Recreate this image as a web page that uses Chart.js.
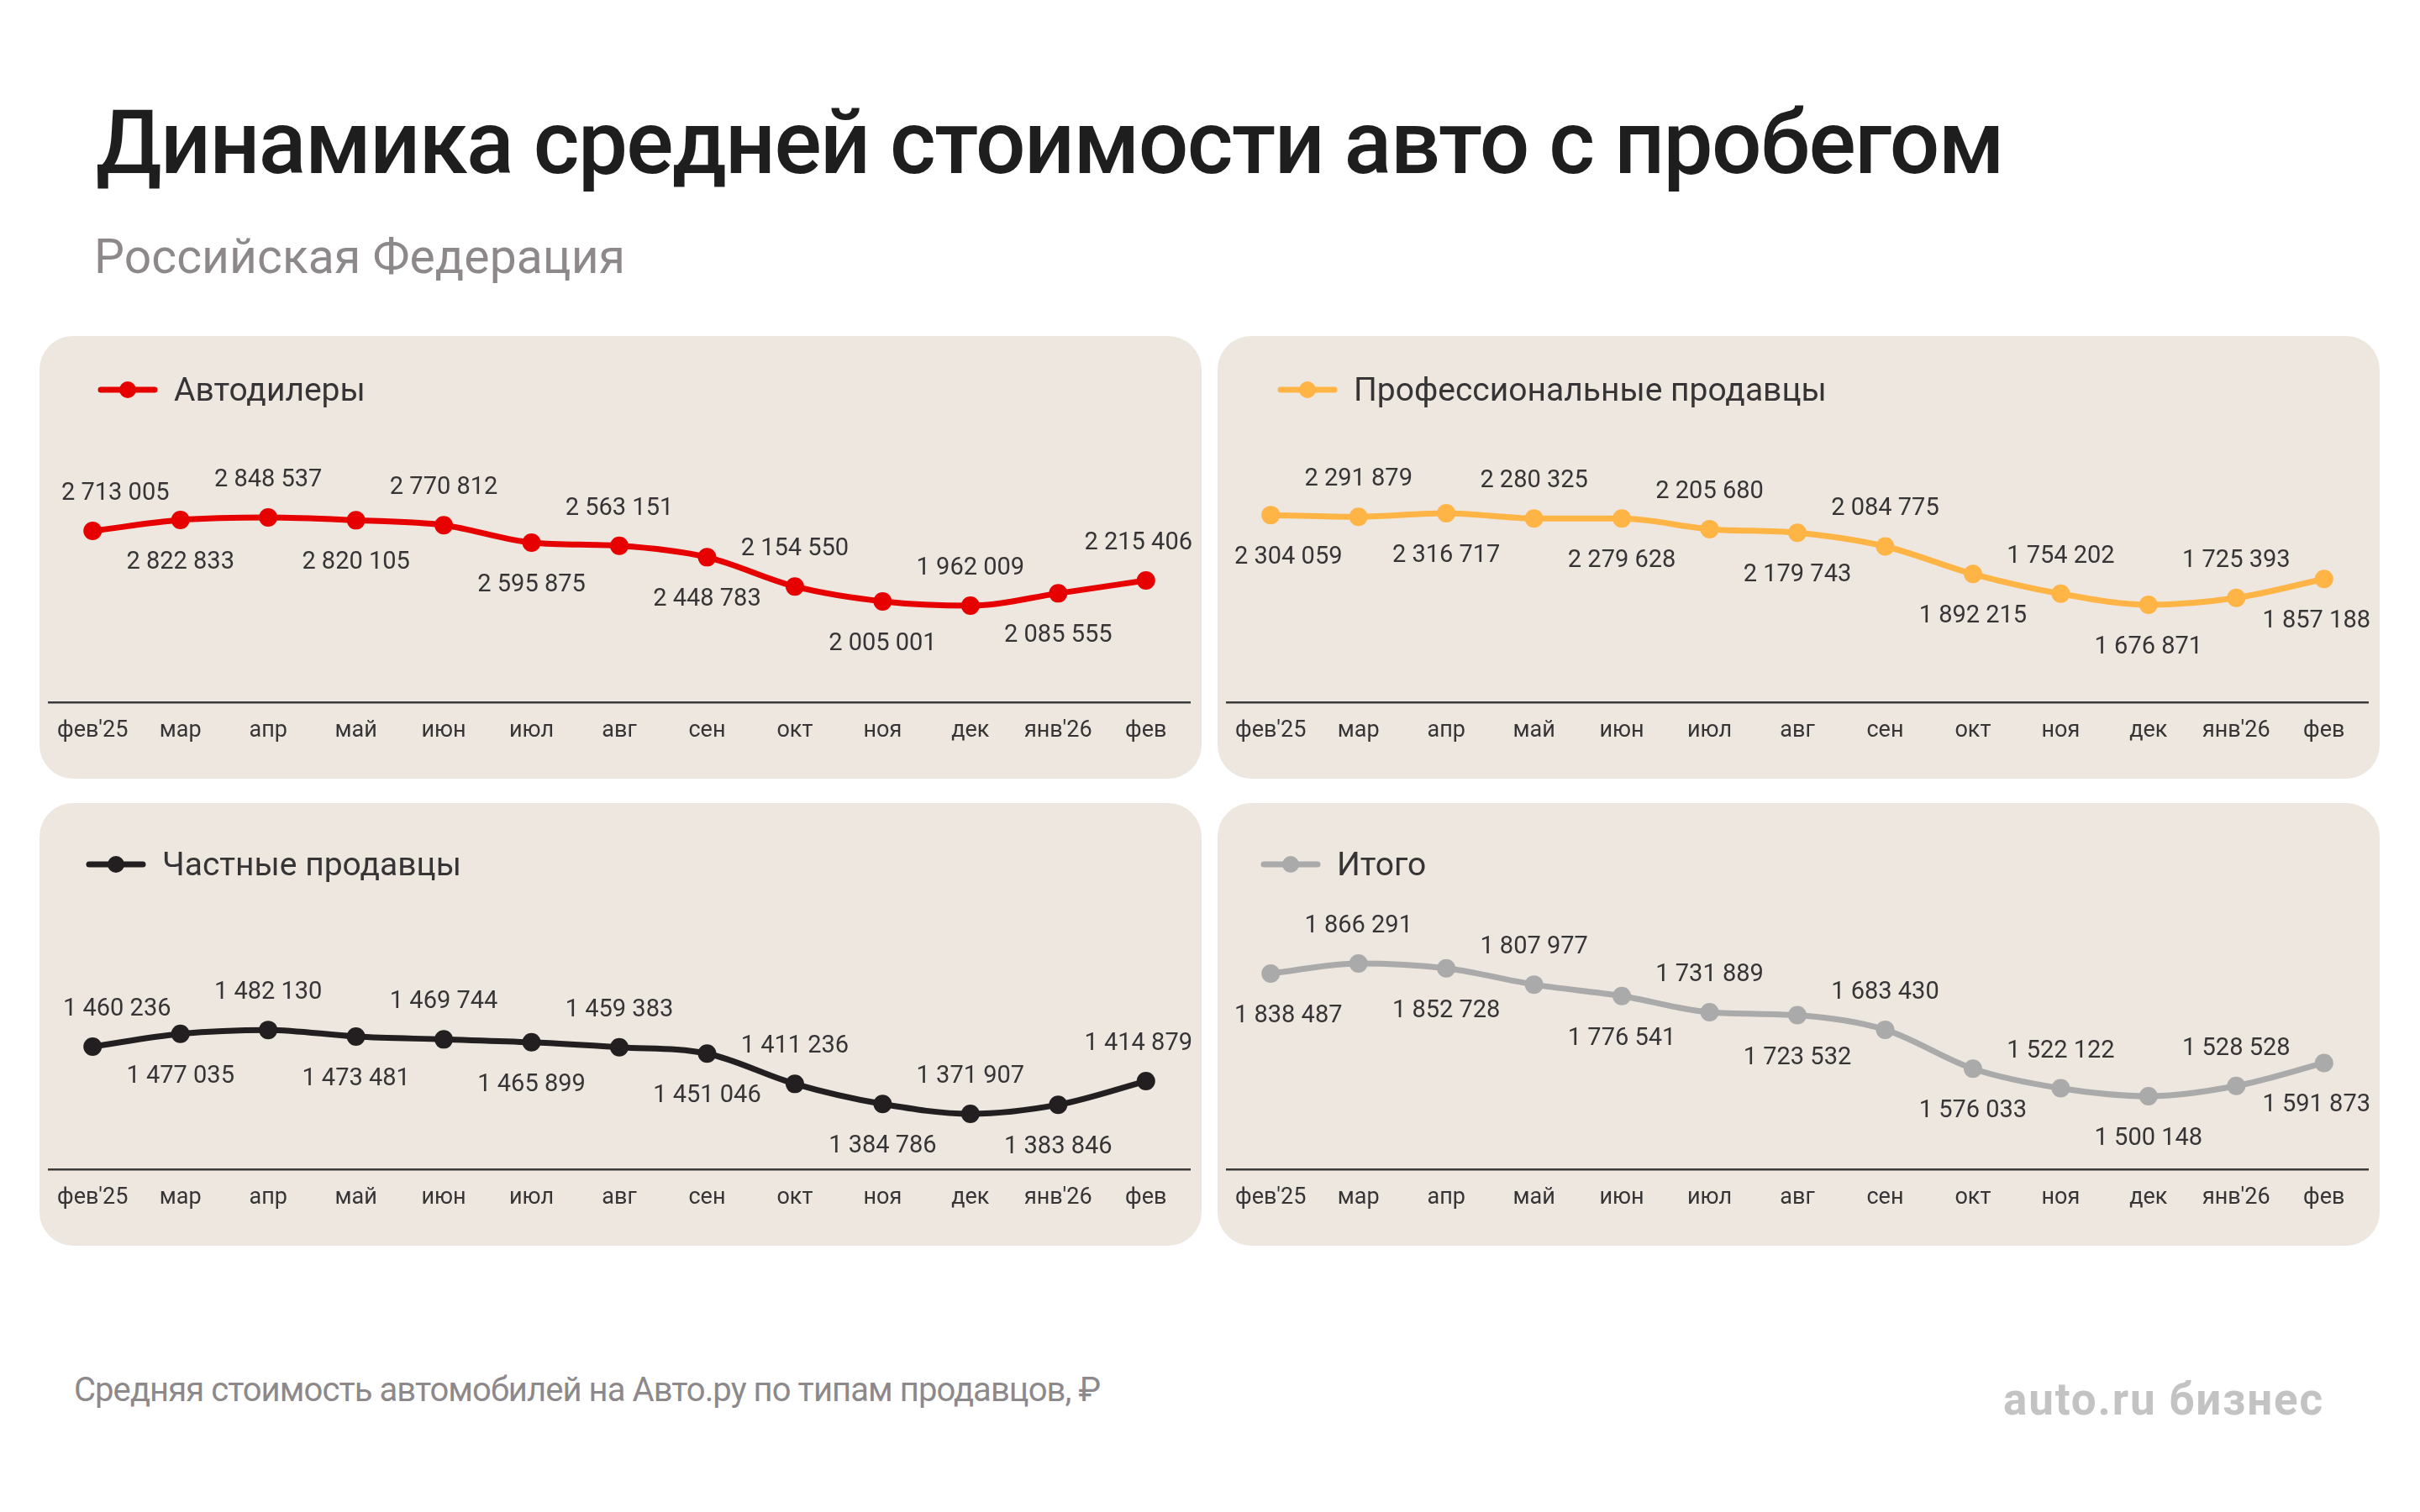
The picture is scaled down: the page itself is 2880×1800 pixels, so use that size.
<!DOCTYPE html>
<html lang="ru">
<head>
<meta charset="utf-8">
<title>Динамика средней стоимости авто с пробегом</title>
<script src="https://cdn.jsdelivr.net/npm/chart.js@4.4.1/dist/chart.umd.min.js"></script>
<style>
  html, body { margin: 0; padding: 0; background: #ffffff; }
  body { width: 2880px; height: 1800px; position: relative; overflow: hidden; font-family: Roboto, "Noto Sans", sans-serif; }
  .txt { position: absolute; white-space: nowrap; line-height: 1; }
  #title { left: 114px; top: 118px; font-size: 105px; font-weight: 500; color: #1e1e1e; }
  #subtitle { left: 112px; top: 277px; font-size: 57px; font-weight: 400; color: #8d898b; }
  #footer { left: 88px; top: 1635px; font-size: 40px; font-weight: 400; color: #8d898b; }
  #logo { left: 2384px; top: 1640px; font-size: 53px; font-weight: 700; color: #c3c3c3; }
  .panel { position: absolute; width: 1383px; height: 527px; background: #ede7e0; border-radius: 40px; overflow: hidden; }
  .panel canvas { position: absolute; left: 0; top: 0; }
</style>
</head>
<body>
<div id="title" class="txt">Динамика средней стоимости авто с пробегом</div>
<div id="subtitle" class="txt">Российская Федерация</div>

<div class="panel" style="left:47px; top:400px;"><canvas id="c1" width="1383" height="527"></canvas></div>
<div class="panel" style="left:1449px; top:400px;"><canvas id="c2" width="1383" height="527"></canvas></div>
<div class="panel" style="left:47px; top:956px;"><canvas id="c3" width="1383" height="527"></canvas></div>
<div class="panel" style="left:1449px; top:956px;"><canvas id="c4" width="1383" height="527"></canvas></div>

<div id="footer" class="txt">Средняя стоимость автомобилей на Авто.ру по типам продавцов, ₽</div>
<div id="logo" class="txt">auto.ru бизнес</div>

<script>
// ---- data ----
const months = ["фев'25", "мар", "апр", "май", "июн", "июл", "авг", "сен", "окт", "ноя", "дек", "янв'26", "фев"];
const dealers = [2713005, 2822833, 2848537, 2820105, 2770812, 2595875, 2563151, 2448783, 2154550, 2005001, 1962009, 2085555, 2215406];
const professionals = [2304059, 2291879, 2316717, 2280325, 2279628, 2205680, 2179743, 2084775, 1892215, 1754202, 1676871, 1725393, 1857188];
const privateSellers = [1460236, 1477035, 1482130, 1473481, 1469744, 1465899, 1459383, 1451046, 1411236, 1384786, 1371907, 1383846, 1414879];
const totals = [1838487, 1866291, 1852728, 1807977, 1776541, 1731889, 1723532, 1683430, 1576033, 1522122, 1500148, 1528528, 1591873];

const seriesNames = ["Автодилеры", "Профессиональные продавцы", "Частные продавцы", "Итого"];

// ---- styles ----
const TEXT = '#363435';
const FONT = 'Roboto, "Noto Sans", sans-serif';

function fmt(v) {
  return String(v).replace(/\B(?=(\d{3})+(?!\d))/g, ' ');
}

const decorPlugin = {
  id: 'decor',
  afterDatasetsDraw(chart, args, opts) {
    const ctx = chart.ctx;
    const ds = chart.data.datasets[0];
    const meta = chart.getDatasetMeta(0);
    ctx.save();
    // value labels
    ctx.font = '400 29px ' + FONT;
    ctx.fillStyle = TEXT;
    ctx.textAlign = 'left';
    ctx.textBaseline = 'alphabetic';
    meta.data.forEach((pt, i) => {
      const text = fmt(ds.data[i]);
      const w = ctx.measureText(text).width;
      let x = pt.x - w / 2;
      x = Math.max(opts.labelMinX, Math.min(chart.width - opts.labelRightMargin - w, x));
      const above = ((i % 2) === 0) === opts.firstAbove;
      const y = above ? pt.y - 37 : pt.y + 58;
      ctx.fillText(text, x, y);
    });
    // legend
    const lx = opts.legendX, ly = opts.legendY;
    ctx.strokeStyle = ds.borderColor;
    ctx.lineWidth = 7;
    ctx.lineCap = 'round';
    ctx.beginPath();
    ctx.moveTo(lx + 3, ly);
    ctx.lineTo(lx + 67, ly);
    ctx.stroke();
    ctx.fillStyle = ds.borderColor;
    ctx.beginPath();
    ctx.arc(lx + 35, ly, 10, 0, Math.PI * 2);
    ctx.fill();
    ctx.font = '400 39px ' + FONT;
    ctx.fillStyle = TEXT;
    ctx.fillText(ds.label, lx + 90, ly + 13);
    ctx.restore();
  }
};

function makeChart(id, name, values, color, yMin, yMax, deco) {
  return new Chart(document.getElementById(id), {
    type: 'line',
    data: {
      labels: months,
      datasets: [{
        label: name,
        data: values,
        borderColor: color,
        backgroundColor: color,
        borderWidth: 7,
        borderCapStyle: 'round',
        borderJoinStyle: 'round',
        cubicInterpolationMode: 'monotone',
        pointRadius: 11,
        pointHoverRadius: 11,
        pointBorderWidth: 0,
        pointBackgroundColor: color,
        fill: false
      }]
    },
    options: {
      responsive: false,
      animation: false,
      events: [],
      layout: { padding: { left: 7, right: 14, top: 100, bottom: 0 } },
      plugins: {
        legend: { display: false },
        tooltip: { enabled: false },
        decor: deco
      },
      scales: {
        x: {
          type: 'category',
          offset: true,
          grid: { display: false, drawTicks: false },
          border: { display: true, color: '#3a3a3a', width: 2.5 },
          ticks: { color: TEXT, font: { family: FONT, size: 27 }, padding: 18, maxRotation: 0, autoSkip: false },
          afterFit(scale) { scale.height = 91; }
        },
        y: {
          display: false,
          min: yMin,
          max: yMax
        }
      }
    },
    plugins: [decorPlugin]
  });
}

makeChart('c1', seriesNames[0], dealers, '#e60000', 991000, 3828000,
  { firstAbove: true, legendX: 70, legendY: 64, labelMinX: 26, labelRightMargin: 11 });
makeChart('c2', seriesNames[1], professionals, '#ffb446', 996000, 2968000,
  { firstAbove: false, legendX: 72, legendY: 64, labelMinX: 20, labelRightMargin: 11 });
makeChart('c3', seriesNames[2], privateSellers, '#231f20', 1299000, 1670000,
  { firstAbove: true, legendX: 56, legendY: 73, labelMinX: 28, labelRightMargin: 11 });
makeChart('c4', seriesNames[3], totals, '#aaaaaa', 1298600, 2077000,
  { firstAbove: false, legendX: 52, legendY: 73, labelMinX: 20, labelRightMargin: 11 });

// fit header/footer text widths to the reference
function fitWidth(id, target) {
  const el = document.getElementById(id);
  el.style.letterSpacing = '0px';
  const w = el.getBoundingClientRect().width;
  const n = el.textContent.length;
  el.style.letterSpacing = ((target - w) / n) + 'px';
}
function fitAll() {
  fitWidth('title', 2270);
  fitWidth('subtitle', 632);
  fitWidth('footer', 1221);
  fitWidth('logo', 382);
}
fitAll();
if (document.fonts && document.fonts.ready) document.fonts.ready.then(fitAll);
</script>
</body>
</html>
